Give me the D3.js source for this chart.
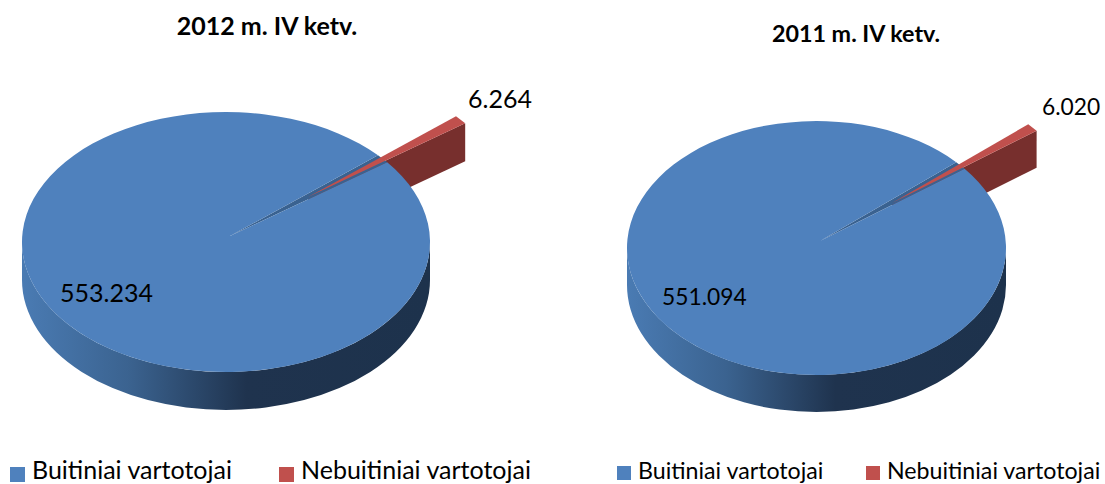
<!DOCTYPE html>
<html>
<head>
<meta charset="utf-8">
<script src="https://cdnjs.cloudflare.com/ajax/libs/d3/7.8.5/d3.min.js"></script>
<style>
  html, body { margin: 0; padding: 0; background: #fff; }
  svg { display: block; }
  text { font-family: Lato, "Open Sans", sans-serif; fill: #000; }
</style>
</head>
<body>
<svg id="chart" width="1105" height="484"></svg>
<script>
const categories = ["Buitiniai vartotojai", "Nebuitiniai vartotojai"];
const values2012 = [553.234, 6.264];
const values2011 = [551.094, 6.020];
const labels2012 = ["553.234", "6.264"];
const labels2011 = ["551.094", "6.020"];
const titles = ["2012 m. IV ketv.", "2011 m. IV ketv."];

const colours = ["#4f81bd", "#c0504d"];
const svg = d3.select("#chart");

// one gradient per pie, runs along the outside wall
function wallGradient(id, x0, x1) {
  const g = svg.append("defs").append("linearGradient")
    .attr("id", id)
    .attr("gradientUnits", "userSpaceOnUse")
    .attr("x1", x0).attr("x2", x1)
    .attr("y1", 0).attr("y2", 0);
  g.append("stop").attr("offset", "0%").attr("stop-color", "#4a7bb3");
  g.append("stop").attr("offset", "26%").attr("stop-color", "#3b6390");
  g.append("stop").attr("offset", "55%").attr("stop-color", "#1f334e");
  g.append("stop").attr("offset", "100%").attr("stop-color", "#1d324c");
}

function drawPie(o) {
  const pie = d3.pie().sort(null)
    .startAngle(o.start)
    .endAngle(o.start + 2 * Math.PI);
  const [blue] = pie(o.values);

  // pie angle to screen point on the tilted ellipse
  const pt = a => [o.cx + o.rx * Math.sin(a), o.cy - o.ry * Math.cos(a)];

  const g = svg.append("g");
  const [bx0, by0] = pt(blue.startAngle);
  const [bx1, by1] = pt(blue.endAngle);
  const [rx1, ry1] = [bx0 + o.shift[0], by0 + o.shift[1]];
  const [rx0, ry0] = [bx1 + o.shift[0], by1 + o.shift[1]];
  const tipX = o.apex[0] + o.shift[0];
  const tipY = o.apex[1] + o.shift[1];

  // exploded slice, its wall goes behind the big slice
  g.append("path")
    .attr("fill", "#772f2d")
    .attr("d", `M${tipX},${tipY}L${rx1},${ry1}L${rx1},${ry1 + o.depth}L${tipX},${tipY + o.depth}Z`);

  // outside wall of the big slice
  wallGradient(o.id, o.cx - o.rx, o.cx + o.rx);
  g.append("path")
    .attr("fill", `url(#${o.id})`)
    .attr("d", `M${o.cx - o.rx},${o.cy}`
      + `A${o.rx},${o.ry} 0 0 0 ${o.cx + o.rx},${o.cy}`
      + `L${o.cx + o.rx},${o.cy + o.depth}`
      + `A${o.rx},${o.ry} 0 0 1 ${o.cx - o.rx},${o.cy + o.depth}Z`);

  // cut wall seen through the notch
  g.append("path")
    .attr("fill", "#3a6290")
    .attr("d", `M${o.apex}L${bx1},${by1}L${bx0},${by0}Z`);

  // top face of the big slice
  g.append("path")
    .attr("fill", colours[0])
    .attr("d", `M${bx0},${by0}A${o.rx},${o.ry} 0 1 1 ${bx1},${by1}L${o.apex}Z`);

  // top face of the small slice
  g.append("path")
    .attr("fill", colours[1])
    .attr("d", `M${tipX},${tipY}L${rx0},${ry0}L${rx1},${ry1}Z`);

  // title and value labels
  svg.append("text")
    .attr("x", o.titlePos[0]).attr("y", o.titlePos[1])
    .attr("text-anchor", "middle")
    .attr("font-size", o.titleSize)
    .attr("font-weight", 700)
    .text(o.title);

  o.labels.forEach((t, i) => {
    svg.append("text")
      .attr("x", o.labelPos[i][0]).attr("y", o.labelPos[i][1])
      .attr("font-size", o.labelSize)
      .text(t);
  });

  // legend
  const legend = svg.selectAll(null).data(categories).enter().append("g")
    .attr("transform", (d, i) => `translate(${o.legendX[i]},0)`);
  legend.append("rect")
    .attr("y", o.swatchY).attr("width", o.swatch).attr("height", o.swatch)
    .attr("fill", (d, i) => colours[i]);
  legend.append("text")
    .attr("x", o.swatch + 7).attr("y", o.legendY)
    .attr("font-size", o.legendSize)
    .text(d => d);
}

drawPie({
  id: "wall-2012", values: values2012, labels: labels2012, title: titles[0],
  cx: 226, cy: 242, rx: 204, ry: 130, depth: 38,
  start: 52.2 * Math.PI / 180,
  apex: [230, 236], shift: [78, -39],
  titlePos: [267, 35], titleSize: 25,
  labelPos: [[60, 302], [468, 108]], labelSize: 25,
  legendX: [10, 279], legendY: 479, swatchY: 467, swatch: 15, legendSize: 25
});

drawPie({
  id: "wall-2011", values: values2011, labels: labels2011, title: titles[1],
  cx: 816.5, cy: 248, rx: 189.5, ry: 127, depth: 37,
  start: 51.4 * Math.PI / 180,
  apex: [820, 241], shift: [72, -38],
  titlePos: [856, 42], titleSize: 23.3,
  labelPos: [[662, 305], [1042, 115]], labelSize: 22.8,
  legendX: [617, 866], legendY: 479, swatchY: 466, swatch: 14, legendSize: 23.2
});
</script>
</body>
</html>
